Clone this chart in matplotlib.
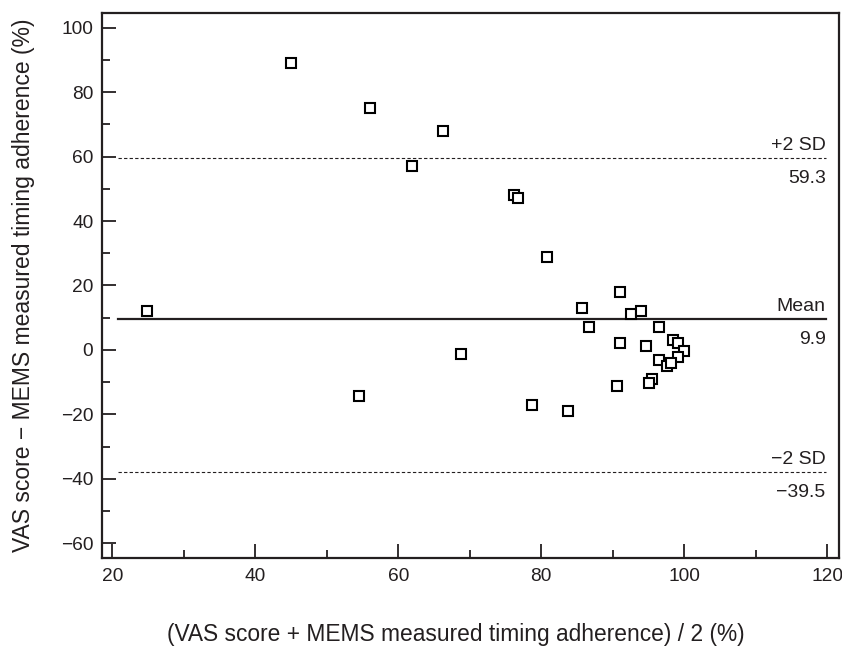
import matplotlib
matplotlib.use("Agg")
import matplotlib.pyplot as plt
from matplotlib.ticker import MultipleLocator

plt.rcParams['font.family'] = ['Liberation Sans', 'DejaVu Sans']

# Data: mean of the two measures (x) vs. difference (y)
mean_pct = [45.0, 56.0, 66.3, 61.9, 24.8, 54.5, 68.8, 76.25, 76.7, 80.8,
            85.7, 86.7, 78.7, 83.8, 91.0, 92.5, 94.0, 96.5, 91.0, 94.6,
            98.5, 99.2, 100.0, 99.2, 96.5, 97.6, 98.1, 95.5, 95.05, 90.6]
diff_pct = [89.1, 75.0, 67.9, 57.1, 12.1, -14.2, -1.3, 48.0, 47.1, 28.8,
            13.0, 7.0, -17.2, -19.0, 18.0, 11.25, 12.1, 7.0, 2.1, 1.1,
            3.2, 2.1, -0.2, -2.1, -3.1, -5.0, -4.1, -9.1, -10.2, -11.2]

# Reference lines (drawn position) and their printed values
ref_names = ['+2 SD', 'Mean', '\u22122 SD']
ref_values = ['59.3', '9.9', '\u221239.5']
ref_levels = [59.7, 9.7, -37.8]
ref_styles = ['--', '-', '--']
ref_widths = [0.8, 1.6, 0.8]
line_x_range = [20.8, 119.8]

x_ticks = [20, 40, 60, 80, 100, 120]
y_ticks = [-60, -40, -20, 0, 20, 40, 60, 80, 100]

dark = '#231f20'

fig = plt.figure(figsize=(8.42, 6.48), dpi=100)
ax = fig.add_axes([102.3 / 842, 1 - 558 / 648, (838.5 - 102.3) / 842, (558 - 12.7) / 648])

for lvl, st, lw in zip(ref_levels, ref_styles, ref_widths):
    ax.plot(line_x_range, [lvl, lvl], linestyle=st, color=dark, linewidth=lw,
            dashes=(3, 2) if st == '--' else (None, None), zorder=1)

for name, val, lvl in zip(ref_names, ref_values, ref_levels):
    ax.annotate(name, xy=(line_x_range[1], lvl), xytext=(0, 2.5), textcoords='offset points',
                ha='right', va='bottom', fontsize=14, color=dark)
    ax.annotate(val, xy=(line_x_range[1], lvl), xytext=(0, -9), textcoords='offset points',
                ha='right', va='top', fontsize=14, color=dark)

ax.plot(mean_pct, diff_pct, linestyle='none', marker='s', markersize=7,
        markerfacecolor='white', markeredgecolor='black', markeredgewidth=1.5, zorder=3)

ax.set_xlim(18.6, 121.6)
ax.set_ylim(-64.56, 104.65)
ax.set_xticks(x_ticks)
ax.set_yticks(y_ticks)
ax.xaxis.set_minor_locator(MultipleLocator(10))
ax.yaxis.set_minor_locator(MultipleLocator(10))
ax.tick_params(which='major', direction='in', length=10, width=1.3, color=dark,
               labelsize=13.8, labelcolor=dark, pad=6.5)
ax.tick_params(which='minor', direction='in', length=5.5, width=1.3, color=dark)
ax.tick_params(axis='x', which='major', pad=7.5)
for s in ax.spines.values():
    s.set_linewidth(1.6)
    s.set_color(dark)

ax.set_xlabel('(VAS score + MEMS measured timing adherence) / 2 (%)', fontsize=16.4,
              color=dark, labelpad=27)
ax.xaxis.label.set_x(0.4805)
ax.set_ylabel('VAS score \u2212 MEMS measured timing adherence (%)', fontsize=16.5,
              color=dark, labelpad=18.5)

fig.savefig('out.png', dpi=100)
